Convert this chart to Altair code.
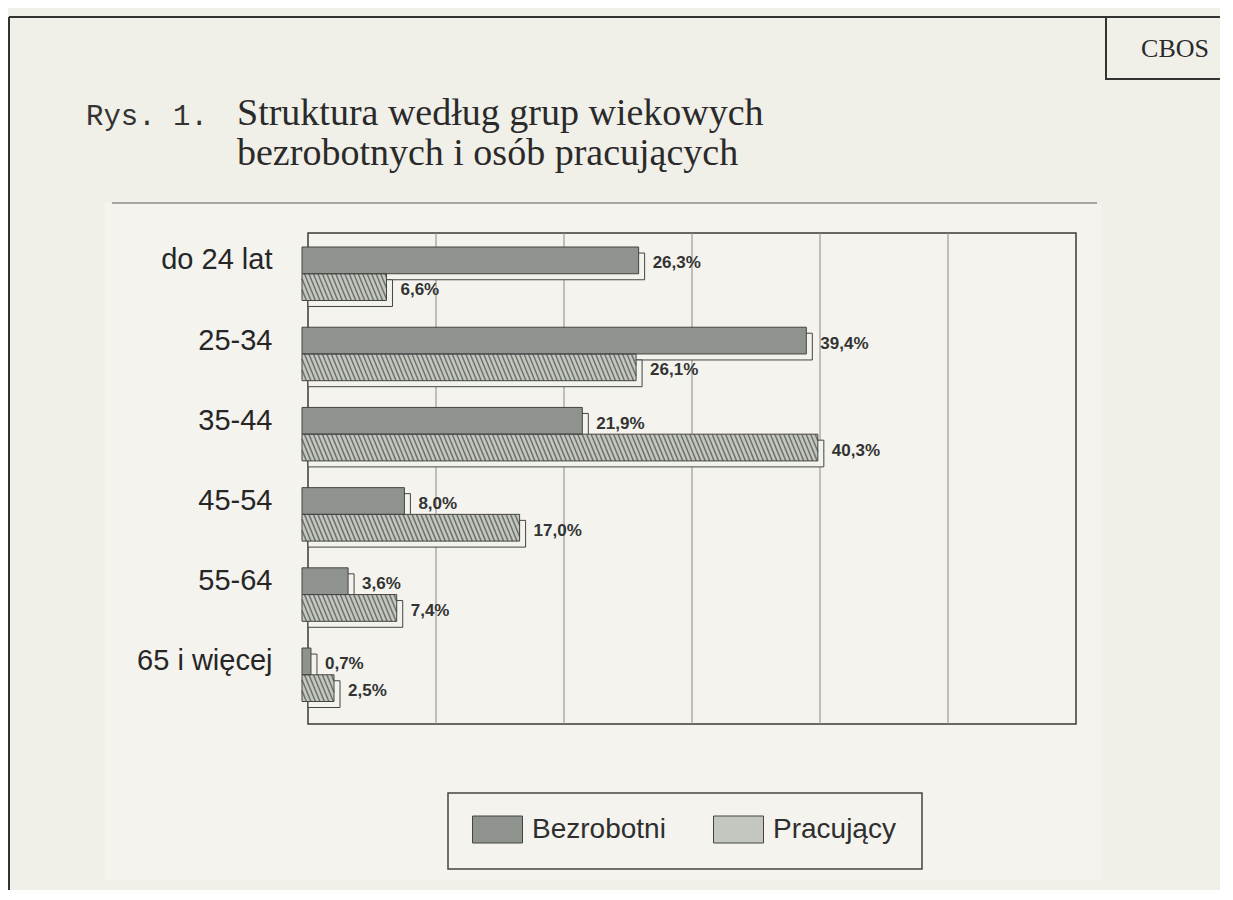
import altair as alt
import pandas as pd

# ---------------- data ----------------
groups = ["do 24 lat", "25-34", "35-44", "45-54", "55-64", "65 i więcej"]
series = ["Bezrobotni", "Pracujący"]
bezrobotni = [26.3, 39.4, 21.9, 8.0, 3.6, 0.7]
pracujacy = [6.6, 26.1, 40.3, 17.0, 7.4, 2.5]
grid_values = [10, 20, 30, 40, 50]
fig_label = "Rys. 1."
title_lines = ["Struktura według grup wiekowych", "bezrobotnych i osób pracujących"]
source_label = "CBOS"

rows = []
for gi, (g, b, p) in enumerate(zip(groups, bezrobotni, pracujacy)):
    rows.append({"group": g, "gi": gi, "series": series[0], "value": b, "key": g + "|B"})
    rows.append({"group": g, "gi": gi, "series": series[1], "value": p, "key": g + "|P"})
df = pd.DataFrame(rows)
keys = []
for g in groups:
    keys += [g + "|B", g + "|P", g + "|_"]
grid_df = pd.DataFrame({"v": grid_values})
one = pd.DataFrame({"k": [0]})

# ---------------- styling ----------------
W, H = 768, 491
BG = "#f0efe8"
PANEL = "#f4f3ee"
INK = "#3a3a3a"
C_B = "#8e938d"
C_P = "#c4c7c0"
DEPTH = 6
P_OUTER, ALIGN = 0.183, 0.82
N_SLOTS = len(keys)
TOTAL_UNITS = N_SLOTS + 2 * P_OUTER
OFF_UNITS = 2 * P_OUTER * ALIGN
STRIPE_STEP = 0.35   # hatch period (in % units of the x scale)
STRIPE_D = 0.86      # horizontal run of one hatch line across a bar

x_scale = alt.Scale(domain=[0, 60], nice=False, zero=True)
y_scale = alt.Scale(type="band", domain=keys, paddingInner=0, paddingOuter=P_OUTER, align=ALIGN)
X = alt.X("value:Q", scale=x_scale, axis=None)
Y_axis = alt.Y(
    "key:N",
    scale=y_scale,
    axis=alt.Axis(
        title=None,
        ticks=False,
        domain=False,
        grid=False,
        bandPosition=1,
        zindex=2,
        labelExpr="split(datum.value, '|')[1] == 'B' ? split(datum.value, '|')[0] : ''",
        labelFont="Liberation Sans",
        labelFontSize=29,
        labelColor="#262626",
        labelPadding=30,
        labelLimit=400,
        labelOverlap=False,
    ),
)
Y = alt.Y("key:N", scale=y_scale, axis=None)

base1 = alt.Chart(one)

panel = base1.mark_rect(fill=PANEL).encode(
    x=alt.value(-197), x2=alt.value(800), y=alt.value(-36), y2=alt.value(641)
)
panel_top = base1.mark_rule(stroke="#8c8c88", strokeWidth=1.5).encode(
    x=alt.value(-190), x2=alt.value(795), y=alt.value(-36)
)
doc_top = base1.mark_rule(stroke="#333", strokeWidth=2).encode(
    x=alt.value(-293), x2=alt.value(940), y=alt.value(-222)
)
doc_left = base1.mark_rule(stroke="#333", strokeWidth=2).encode(
    x=alt.value(-293), y=alt.value(-222), y2=alt.value(660)
)
cbos_box = base1.mark_rect(fill="transparent", stroke="#333", strokeWidth=2).encode(
    x=alt.value(804), x2=alt.value(960), y=alt.value(-222), y2=alt.value(-160)
)
cbos_text = base1.mark_text(
    font="Liberation Serif", fontSize=26, color="#2a2a2a", align="center", baseline="alphabetic"
).encode(x=alt.value(873), y=alt.value(-182), text=alt.value(source_label))

rys_text = base1.mark_text(
    font="Liberation Mono", fontSize=29, color="#333", align="left", baseline="alphabetic"
).encode(x=alt.value(-216), y=alt.value(-114), text=alt.value(fig_label))
title1 = base1.mark_text(
    font="Liberation Serif", fontSize=38, color="#2a2a2a", align="left", baseline="alphabetic"
).encode(x=alt.value(-65), y=alt.value(-114), text=alt.value(title_lines[0]))
title2 = base1.mark_text(
    font="Liberation Serif", fontSize=38, color="#2a2a2a", align="left", baseline="alphabetic"
).encode(x=alt.value(-65), y=alt.value(-74), text=alt.value(title_lines[1]))

wall = base1.mark_rect(fill="transparent", stroke=INK, strokeWidth=1.5).encode(
    x=alt.value(DEPTH), x2=alt.value(W + DEPTH), y=alt.value(-DEPTH), y2=alt.value(H - DEPTH)
)
grid = alt.Chart(grid_df).mark_rule(stroke="#8a8a86", strokeWidth=1, xOffset=DEPTH).encode(
    x=alt.X("v:Q", scale=x_scale, axis=None),
    y=alt.value(-DEPTH),
    y2=alt.value(H - DEPTH),
)

base = alt.Chart(df)
shadow = base.mark_bar(
    fill="#f3f3ee", stroke="#444", strokeWidth=1,
    xOffset=DEPTH, x2Offset=DEPTH, yOffset=DEPTH, y2Offset=DEPTH,
).encode(x=X, y=Y)

bars = base.mark_bar(strokeWidth=0).encode(
    x=X,
    y=Y_axis,
    color=alt.Color(
        "series:N",
        scale=alt.Scale(domain=series, range=[C_B, C_P]),
        legend=alt.Legend(
            title=None,
            orient="none",
            legendX=170,
            legendY=565,
            direction="horizontal",
            symbolType="M-1,-0.54H1V0.54H-1Z",
            symbolSize=2500,
            symbolStrokeColor="#444",
            symbolStrokeWidth=1,
            symbolOpacity=1,
            labelFont="Liberation Sans",
            labelFontSize=28,
            labelColor="#2e2e2e",
            labelOffset=9,
            columnPadding=45,
            padding=0,
            labelLimit=300,
        ),
    ),
)

# diagonal hatching of the "Pracujący" bars, clipped to each bar
stripes = (
    base.transform_filter(alt.datum.series == series[1])
    .transform_calculate(s=f"sequence(-{STRIPE_D}, datum.value, {STRIPE_STEP})")
    .transform_flatten(["s"])
    .transform_calculate(
        t0=f"max(0, -datum.s / {STRIPE_D})",
        t1=f"min(1, (datum.value - datum.s) / {STRIPE_D})",
    )
    .transform_filter("datum.t1 > datum.t0")
    .transform_calculate(
        xa=f"datum.s + datum.t0 * {STRIPE_D}",
        xb=f"datum.s + datum.t1 * {STRIPE_D}",
        ya=f"{OFF_UNITS} + datum.gi * 3 + 1 + datum.t0",
        yb=f"{OFF_UNITS} + datum.gi * 3 + 1 + datum.t1",
    )
    .mark_rule(stroke="#6d726c", strokeWidth=1.5)
    .encode(
        x=alt.X("xa:Q", scale=x_scale, axis=None),
        x2="xb:Q",
        y=alt.Y("ya:Q", scale=alt.Scale(domain=[0, TOTAL_UNITS], reverse=True, nice=False, zero=False), axis=None),
        y2="yb:Q",
    )
)

outline = base.mark_bar(fill="transparent", stroke="#444", strokeWidth=1).encode(x=X, y=Y)

labels = base.transform_calculate(
    label="replace(format(datum.value, '.1f'), '.', ',') + '%'"
).mark_text(
    align="left", baseline="middle", dx=14, dy=3,
    font="Liberation Sans", fontSize=17, fontWeight="bold", color="#333",
).encode(x=X, y=Y, text="label:N")

legend_box = base1.mark_rect(fill="transparent", stroke="#444", strokeWidth=1.5).encode(
    x=alt.value(146), x2=alt.value(620), y=alt.value(554), y2=alt.value(630)
)

chart = alt.layer(
    panel, panel_top, doc_top, doc_left, cbos_box, cbos_text,
    rys_text, title1, title2,
    wall, grid, shadow, bars, stripes, outline, labels, legend_box,
).resolve_scale(y="independent").properties(
    width=W,
    height=H,
    autosize=alt.AutoSizeParams(type="none"),
    padding={"left": 294, "top": 231, "right": 150, "bottom": 160},
    background=BG,
).configure_view(stroke="transparent")

chart.save("out.html", embed_options={"renderer": "svg", "actions": False})
